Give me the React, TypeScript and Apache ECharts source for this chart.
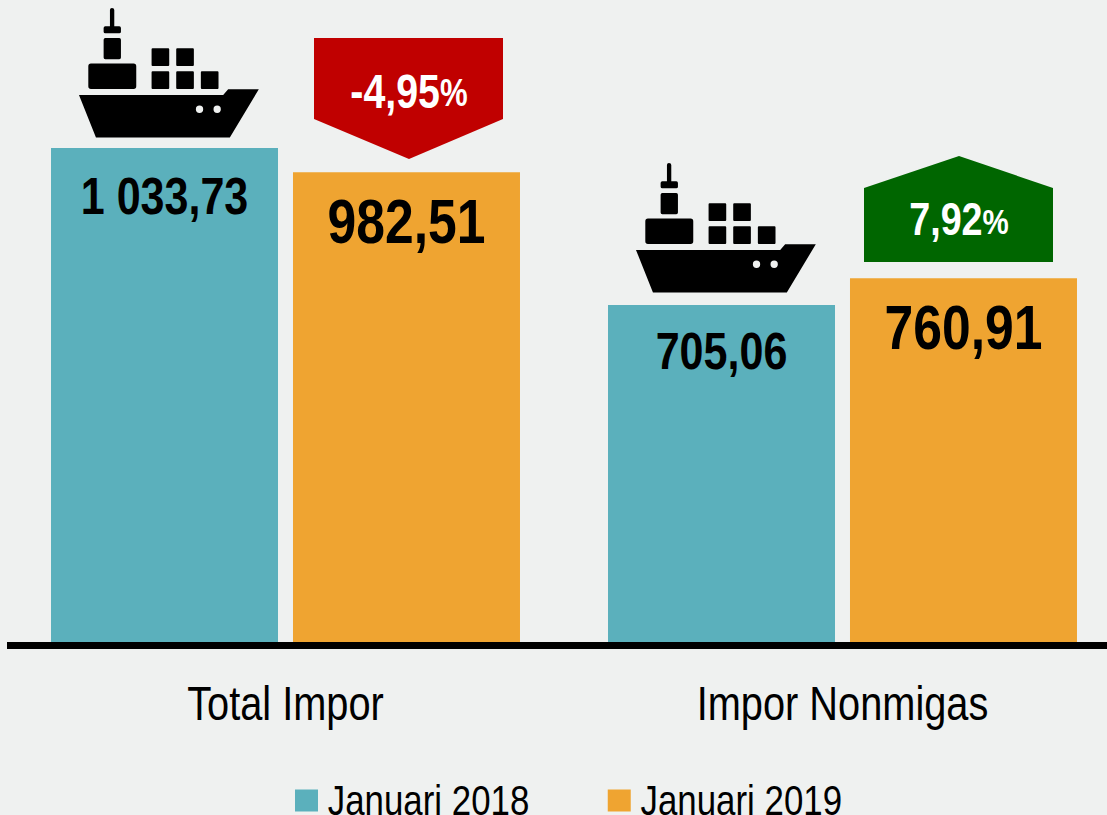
import React, { useEffect, useRef } from "react";
import * as echarts from "echarts";

const categories = ["Total Impor", "Impor Nonmigas"];
const seriesNames = ["Januari 2018", "Januari 2019"];
const values2018 = [1033.73, 705.06];
const values2019 = [982.51, 760.91];
const labels2018 = ["1 033,73", "705,06"];
const labels2019 = ["982,51", "760,91"];
const badgeStrings = ["-4,95", "7,92", "%"];

const FONT = '"Liberation Sans", Arial, sans-serif';
const BG = "#EFF1F0";
const NARROW = 0.82;

const shipPath =
  "M57 285 L490 285 L505 268 L597 268 L510 413 L108 413 Z " +
  "M408 328 A11 11 0 1 0 430 328 A11 11 0 1 0 408 328 Z " +
  "M461 328 A11 11 0 1 0 483 328 A11 11 0 1 0 461 328 Z " +
  "M150 30 Q150 24 156 24 Q163 24 163 30 L163 79 L178 79 Q183 79 183 84 L183 95 Q183 100 178 100 L136 100 Q131 100 131 95 L131 84 Q131 79 136 79 L150 79 Z " +
  "M136 114 L178 114 Q183 114 183 119 L183 173 Q183 178 178 178 L136 178 Q131 178 131 173 L131 119 Q131 114 136 114 Z " +
  "M93 191 L221 191 Q229 191 229 199 L229 259 Q229 267 221 267 L93 267 Q85 267 85 259 L85 199 Q85 191 93 191 Z " +
  "M278 145 L325 145 Q328 145 328 148 L328 195 Q328 198 325 198 L278 198 Q275 198 275 195 L275 148 Q275 145 278 145 Z " +
  "M352 145 L399 145 Q402 145 402 148 L402 195 Q402 198 399 198 L352 198 Q349 198 349 195 L349 148 Q349 145 352 145 Z " +
  "M278 214 L325 214 Q328 214 328 217 L328 264 Q328 267 325 267 L278 267 Q275 267 275 264 L275 217 Q275 214 278 214 Z " +
  "M352 214 L399 214 Q402 214 402 217 L402 264 Q402 267 399 267 L352 267 Q349 267 349 264 L349 217 Q349 214 352 214 Z " +
  "M426 214 L473 214 Q476 214 476 217 L476 264 Q476 267 473 267 L426 267 Q423 267 423 264 L423 217 Q423 214 426 214 Z";

echarts.graphic.registerShape("ship", echarts.graphic.extendPath(shipPath, {}) as any);

const badgeText = (text: string, pct: string, cx: number, cy: number, big: number, small: number) => ({
  type: "text",
  x: cx,
  y: cy,
  scaleX: NARROW,
  style: {
    text: `{a|${text}}{b|${pct}}`,
    align: "center",
    verticalAlign: "middle",
    rich: {
      a: { fontFamily: FONT, fontWeight: "bold", fontSize: big, fill: "#fff", color: "#fff" },
      b: { fontFamily: FONT, fontWeight: "bold", fontSize: small, fill: "#fff", color: "#fff", padding: [4, 0, 0, 0] },
    },
  },
});

export default function App() {
  const ref = useRef<HTMLDivElement>(null);
  useEffect(() => {
    document.body.style.margin = "0";
    const chart = echarts.init(ref.current!, null, { renderer: "svg" });
    chart.setOption({
      animation: false,
      backgroundColor: BG,
      grid: { left: 7, width: 1114, top: 68.4, bottom: 173, outerBoundsMode: "none" },
      legend: {
        left: 290,
        top: 774,
        icon: "rect",
        itemWidth: 23,
        itemHeight: 22,
        itemGap: 27,
        data: seriesNames,
        textStyle: { fontFamily: FONT, fontSize: 42.5, color: "#000", padding: [0, 0, 0, 12] },
      },
      xAxis: {
        type: "category",
        data: categories,
        offset: 3.5,
        axisTick: { show: false },
        axisLine: { onZero: false, lineStyle: { color: "#000", width: 7, cap: "butt" } },
        axisLabel: { fontFamily: FONT, fontSize: 48.5, color: "#000", margin: 33 },
      },
      yAxis: { type: "value", min: 0, max: 1200, show: false, splitLine: { show: false } },
      series: [
        {
          name: seriesNames[0],
          type: "bar",
          data: [
            { value: values2018[0] },
            { value: values2018[1], label: { distance: 19 } },
          ],
          barWidth: 227,
          barGap: "6.6%",
          itemStyle: { color: "#5BB0BC" },
          label: {
            show: true,
            position: "insideTop",
            distance: 22,
            fontFamily: FONT,
            fontWeight: "bold",
            fontSize: 52.5,
            color: "#000",
            formatter: (p: any) => labels2018[p.dataIndex],
          },
        },
        {
          name: seriesNames[1],
          type: "bar",
          data: values2019,
          barWidth: 227,
          itemStyle: { color: "#EFA431" },
          label: {
            show: true,
            position: "insideTop",
            distance: 17,
            fontFamily: FONT,
            fontWeight: "bold",
            fontSize: 63,
            color: "#000",
            formatter: (p: any) => labels2019[p.dataIndex],
          },
        },
      ],
      graphic: [
        { type: "ship", x: 60, y: 0, scaleX: 1 / 3, scaleY: 1 / 3, style: { fill: "#000" } },
        { type: "ship", x: 617, y: 155, scaleX: 1 / 3, scaleY: 1 / 3, style: { fill: "#000" } },
        {
          type: "polygon",
          shape: { points: [[314, 38], [503, 38], [503, 119], [409, 159], [314, 119]] },
          style: { fill: "#C00000" },
        },
        badgeText("-4,95", "%", 409, 91, 48, 38),
        {
          type: "polygon",
          shape: { points: [[864, 188], [959, 156], [1053, 188], [1053, 262], [864, 262]] },
          style: { fill: "#006600" },
        },
        badgeText("7,92", "%", 959, 219, 46, 36),
      ],
    });
    // No narrow font is installed: condense the chart's own texts horizontally about their anchors.
    ref.current!.querySelectorAll("text").forEach((el) => {
      const content = (el.textContent || "").trim();
      if (badgeStrings.includes(content)) return;
      const t = el.getAttribute("transform") || "";
      const m = t.match(/matrix\(([^)]+)\)/);
      if (m) {
        const p = m[1].split(/[ ,]+/).map(Number);
        p[0] *= NARROW;
        el.setAttribute("transform", `matrix(${p.join(" ")})`);
      } else {
        el.setAttribute("transform", `${t} scale(${NARROW} 1)`);
      }
    });
    return () => chart.dispose();
  }, []);
  return <div ref={ref} style={{ width: 1107, height: 815 }} />;
}
